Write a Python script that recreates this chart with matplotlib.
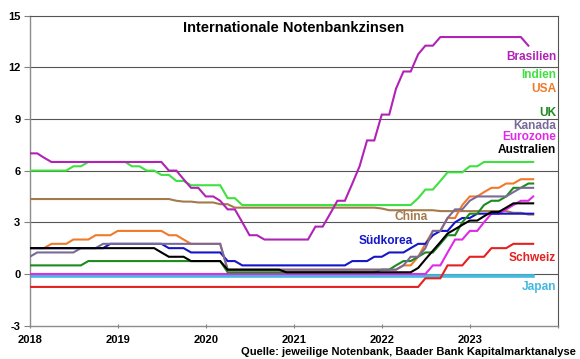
import matplotlib
matplotlib.use("Agg")
import matplotlib.pyplot as plt
import pandas as pd
import numpy as np

plt.rcParams['font.family'] = ['Liberation Sans', 'DejaVu Sans']

# monthly (end of month) from Dec 2017 to Aug 2023, plus current value Sep 2023
dates = list(pd.date_range('2017-12-31', periods=69, freq='ME')) + [pd.Timestamp('2023-09-20')]

brasilien = ([7.0] +
             [7.0, 6.75, 6.5, 6.5, 6.5, 6.5, 6.5, 6.5, 6.5, 6.5, 6.5, 6.5] +
             [6.5, 6.5, 6.5, 6.5, 6.5, 6.5, 6.0, 6.0, 5.5, 5.0, 5.0, 4.5] +
             [4.5, 4.25, 3.75, 3.75, 3.0, 2.25, 2.25, 2.0, 2.0, 2.0, 2.0, 2.0] +
             [2.0, 2.0, 2.75, 2.75, 3.5, 4.25, 4.25, 5.25, 6.25, 7.75, 7.75, 9.25] +
             [9.25, 10.75, 11.75, 11.75, 12.75, 13.25, 13.25, 13.75, 13.75, 13.75, 13.75, 13.75] +
             [13.75, 13.75, 13.75, 13.75, 13.75, 13.75, 13.75, 13.25])
indien = ([6.0] +
          [6.0, 6.0, 6.0, 6.0, 6.0, 6.25, 6.25, 6.5, 6.5, 6.5, 6.5, 6.5] +
          [6.5, 6.25, 6.25, 6.0, 6.0, 5.75, 5.75, 5.4, 5.4, 5.15, 5.15, 5.15] +
          [5.15, 5.15, 4.4, 4.4, 4.0, 4.0, 4.0, 4.0, 4.0, 4.0, 4.0, 4.0] +
          [4.0] * 12 +
          [4.0, 4.0, 4.0, 4.0, 4.4, 4.9, 4.9, 5.4, 5.9, 5.9, 5.9, 6.25] +
          [6.25, 6.5, 6.5, 6.5, 6.5, 6.5, 6.5, 6.5, 6.5])
usa = ([1.5] +
       [1.5, 1.5, 1.75, 1.75, 1.75, 2.0, 2.0, 2.0, 2.25, 2.25, 2.25, 2.5] +
       [2.5, 2.5, 2.5, 2.5, 2.5, 2.5, 2.25, 2.25, 2.0, 1.75, 1.75, 1.75] +
       [1.75, 1.75] + [0.25] * 10 +
       [0.25] * 12 +
       [0.25, 0.25, 0.5, 0.5, 1.0, 1.75, 2.5, 2.5, 3.25, 3.25, 4.0, 4.5] +
       [4.5, 4.75, 5.0, 5.0, 5.25, 5.25, 5.5, 5.5, 5.5])
uk = ([0.5] +
      [0.5] * 7 + [0.75] * 5 +
      [0.75] * 12 +
      [0.75, 0.75] + [0.1] * 10 +
      [0.1] * 11 + [0.25] +
      [0.25, 0.5, 0.75, 0.75, 1.0, 1.25, 1.25, 1.75, 2.25, 2.25, 3.0, 3.5] +
      [3.5, 4.0, 4.25, 4.25, 4.5, 5.0, 5.0, 5.25, 5.25])
kanada = ([1.0] +
          [1.25] * 6 + [1.5] * 3 + [1.75] * 3 +
          [1.75] * 12 +
          [1.75, 1.75] + [0.25] * 10 +
          [0.25] * 12 +
          [0.25, 0.25, 0.5, 1.0, 1.0, 1.5, 2.5, 2.5, 3.25, 3.75, 3.75, 4.25] +
          [4.5, 4.5, 4.5, 4.5, 4.5, 4.75, 5.0, 5.0, 5.0])
eurozone = ([0.0] + [0.0] * 48 +
            [0.0, 0.0, 0.0, 0.0, 0.0, 0.0, 0.5, 0.5, 1.25, 2.0, 2.0, 2.5] +
            [2.5, 3.0, 3.5, 3.5, 3.75, 4.0, 4.25, 4.25, 4.5])
australien = ([1.5] +
              [1.5] * 12 +
              [1.5] * 5 + [1.25, 1.0, 1.0, 1.0, 0.75, 0.75, 0.75] +
              [0.75, 0.75] + [0.25] * 8 + [0.1, 0.1] +
              [0.1] * 12 +
              [0.1, 0.1, 0.1, 0.1, 0.35, 0.85, 1.35, 1.85, 2.35, 2.6, 2.85, 3.1] +
              [3.1, 3.35, 3.6, 3.6, 3.85, 4.1, 4.1, 4.1, 4.1])
china = ([4.35] +
         [4.35] * 12 +
         [4.35] * 7 + [4.25, 4.2, 4.2, 4.15, 4.15] +
         [4.15, 4.05, 4.05] + [3.85] * 9 +
         [3.85] * 11 + [3.8] +
         [3.7] * 7 + [3.65] * 5 +
         [3.65] * 5 + [3.55, 3.55, 3.45, 3.45])
suedkorea = ([1.5] +
             [1.5] * 10 + [1.75, 1.75] +
             [1.75] * 6 + [1.5, 1.5, 1.5, 1.25, 1.25, 1.25] +
             [1.25, 1.25, 0.75, 0.75] + [0.5] * 8 +
             [0.5] * 7 + [0.75, 0.75, 0.75, 1.0, 1.0] +
             [1.25, 1.25, 1.25, 1.5, 1.75, 1.75, 2.25, 2.5, 2.5, 3.0, 3.25, 3.25] +
             [3.5] * 9)
schweiz = ([-0.75] * 54 +
           [-0.25, -0.25, -0.25, 0.5, 0.5, 0.5, 1.0] +
           [1.0, 1.0, 1.5, 1.5, 1.5, 1.75, 1.75, 1.75, 1.75])
japan = [-0.1] * 70

series = [
    # name, values, colour, zorder
    ("China", china, "#A47A4C", 3),
    ("Indien", indien, "#3FE03F", 3),
    ("Brasilien", brasilien, "#B023B4", 4),
    ("Japan", japan, "#45B9E0", 2),
    ("Schweiz", schweiz, "#E42020", 3),
    ("Eurozone", eurozone, "#E02BE6", 3),
    ("USA", usa, "#F07A2A", 4),
    ("Südkorea", suedkorea, "#1616C8", 4),
    ("UK", uk, "#1E8A1E", 5),
    ("Kanada", kanada, "#7A6A9A", 5),
    ("Australien", australien, "#000000", 6),
]

label_pos = {
    # name: (x, y, ha)
    "Brasilien": (2023.98, 12.62, "right"),
    "Indien": (2023.98, 11.52, "right"),
    "USA": (2023.98, 10.76, "right"),
    "UK": (2023.98, 9.34, "right"),
    "Kanada": (2023.98, 8.58, "right"),
    "Eurozone": (2023.98, 7.94, "right"),
    "Australien": (2023.98, 7.22, "right"),
    "China": (2022.33, 3.32, "center"),
    "Südkorea": (2022.04, 1.92, "center"),
    "Schweiz": (2023.98, 0.9, "right"),
    "Japan": (2023.98, -0.75, "right"),
}


def to_year(d):
    start = pd.Timestamp(year=d.year, month=1, day=1)
    end = pd.Timestamp(year=d.year + 1, month=1, day=1)
    return d.year + (d - start) / (end - start)


fig = plt.figure(figsize=(5.8, 3.59), dpi=100)
ax = fig.add_axes([30 / 580, 1 - 325.7 / 359, 528 / 580, 310.2 / 359])

for name, vals, col, z in series:
    xs = [to_year(d) for d in dates[:len(vals)]]
    lw = 2.6 if name == "Japan" else 1.5
    ax.plot(xs, vals, color=col, lw=lw, zorder=z, solid_joinstyle='miter')
    lx, ly, ha = label_pos[name]
    ax.text(lx, ly, name, color=col, fontsize=8.6, fontweight='bold',
            ha=ha, va='center', zorder=10)

ax.set_xlim(2018, 2024)
ax.set_ylim(-3, 15)
ax.set_yticks([-3, 0, 3, 6, 9, 12, 15])
ax.set_yticklabels(["-3", "0", "3", "6", "9", "12", "15"])
ax.set_xticks([2018, 2019, 2020, 2021, 2022, 2023, 2024])
ax.set_xticklabels(["2018", "2019", "2020", "2021", "2022", "2023", ""])
for lab in ax.get_xticklabels() + ax.get_yticklabels():
    lab.set_fontweight('bold')
    lab.set_fontsize(8)
ax.tick_params(axis='y', length=4, width=0.8, color='#808080', pad=3)
ax.tick_params(axis='x', length=3, width=0.8, color='#808080', pad=5, direction='inout')

for y in [0, 3, 6, 9, 12]:
    ax.axhline(y, color='#555555', lw=0.8, zorder=1)

for s in ['left', 'bottom']:
    ax.spines[s].set_color('#8C8C8C')
    ax.spines[s].set_linewidth(1.0)
for s in ['top', 'right']:
    ax.spines[s].set_color('#555555')
    ax.spines[s].set_linewidth(0.8)

ax.text(0.5, 0.96, "Internationale Notenbankzinsen", transform=ax.transAxes,
        ha='center', va='center', fontsize=10.5, fontweight='bold', zorder=10)
fig.text(576 / 580, 1 - 352 / 359, "Quelle: jeweilige Notenbank, Baader Bank Kapitalmarktanalyse",
         ha='right', va='center', fontsize=8, fontweight='bold')

fig.savefig("out.png", dpi=100)
